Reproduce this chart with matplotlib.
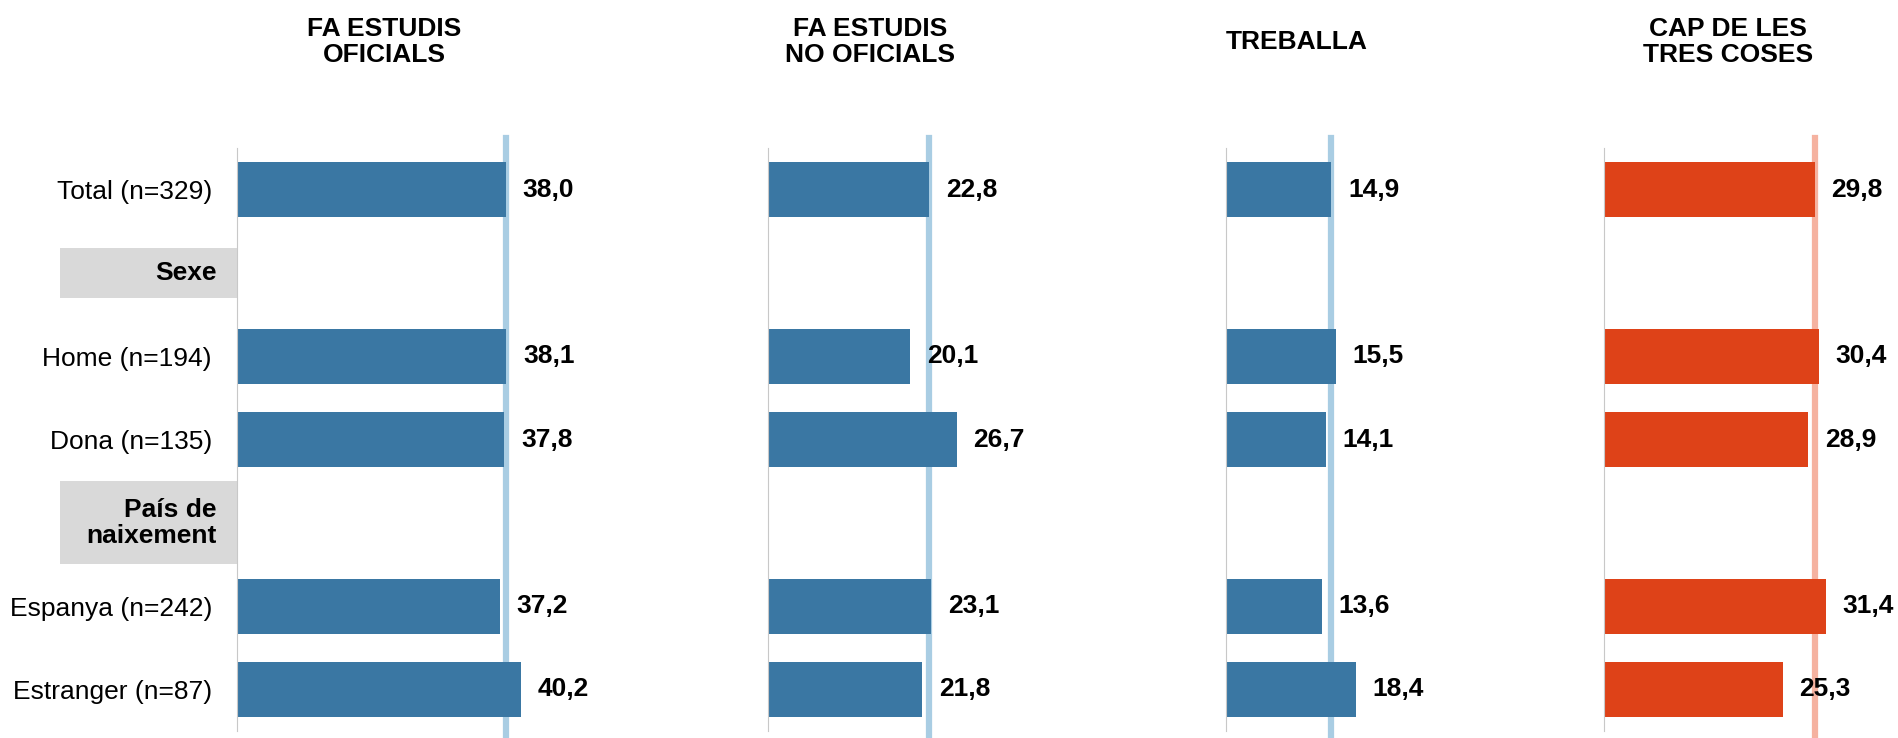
import matplotlib
matplotlib.use('Agg')
import matplotlib.pyplot as plt
from matplotlib.patches import Rectangle

plt.rcParams['font.family'] = ['Liberation Sans', 'DejaVu Sans']

# rows (None = group header)
rows = ['Total (n=329)', 'Sexe', 'Home (n=194)', 'Dona (n=135)',
        'País de\nnaixement', 'Espanya (n=242)', 'Estranger (n=87)']
is_header = [False, True, False, False, True, False, False]

titles = ['FA ESTUDIS\nOFICIALS', 'FA ESTUDIS\nNO OFICIALS', 'TREBALLA',
          'CAP DE LES\nTRES COSES']
oficials = [38.0, None, 38.1, 37.8, None, 37.2, 40.2]
no_oficials = [22.8, None, 20.1, 26.7, None, 23.1, 21.8]
treballa = [14.9, None, 15.5, 14.1, None, 13.6, 18.4]
cap = [29.8, None, 30.4, 28.9, None, 31.4, 25.3]
series = [oficials, no_oficials, treballa, cap]

bar_colors = ['#3a77a3', '#3a77a3', '#3a77a3', '#de4218']
ref_colors = ['#a9cde3', '#a9cde3', '#a9cde3', '#f5b2a0']

W, H = 1899, 738
PX_PER_UNIT = 7.07
fig = plt.figure(figsize=(W / 100, H / 100), dpi=100)

# panel left edges / widths in pixels, title centres in pixels
lefts = [237, 768, 1226, 1604]
widths = [503, 432, 354, 295]
title_x = [384, 870, 1297, 1728]
ax_top, ax_bot = 148, 731

fs = 19
for k, vals in enumerate(series):
    ax = fig.add_axes([lefts[k] / W, 1 - ax_bot / H, widths[k] / W,
                       (ax_bot - ax_top) / H])
    ax.set_xlim(0, widths[k] / PX_PER_UNIT)
    ax.set_ylim(len(rows) - 0.5, -0.5)
    for s in ['top', 'right', 'bottom']:
        ax.spines[s].set_visible(False)
    ax.spines['left'].set_color('#c8c8c8')
    ax.spines['left'].set_linewidth(0.8)
    ax.set_xticks([])
    ax.tick_params(axis='y', length=0, pad=18)

    ys = [i for i, v in enumerate(vals) if v is not None]
    xs = [v for v in vals if v is not None]
    ax.barh(ys, xs, height=0.66, color=bar_colors[k], zorder=2)
    ax.axvline(vals[0], ymin=-0.012, ymax=1.017, color=ref_colors[k],
               lw=4.5, zorder=1, clip_on=False)
    for y, v in zip(ys, xs):
        ax.annotate(f'{v:.1f}'.replace('.', ','), (v, y), xytext=(12, 0),
                    textcoords='offset points', va='center', ha='left',
                    fontsize=fs, fontweight='bold', color='black')

    fig.text(title_x[k] / W, 1 - 42 / H, titles[k], ha='center', va='center',
             fontsize=fs, fontweight='bold', linespacing=1.1)

    if k == 0:
        ax.set_yticks(range(len(rows)))
        ax.set_yticklabels(['' if h else r for r, h in zip(rows, is_header)],
                           fontsize=fs)
        box_w = 177 / PX_PER_UNIT
        for i, (r, h) in enumerate(zip(rows, is_header)):
            if not h:
                continue
            bh = 0.61 if '\n' not in r else 1.0
            ax.add_patch(Rectangle((-box_w, i - bh / 2), box_w, bh,
                                   facecolor='#d9d9d9', edgecolor='none',
                                   clip_on=False, zorder=0))
            ax.text(-20 / PX_PER_UNIT, i, r, ha='right', va='center',
                    fontsize=fs, fontweight='bold', linespacing=1.1)
    else:
        ax.set_yticks([])

fig.savefig('out.png', dpi=100)
